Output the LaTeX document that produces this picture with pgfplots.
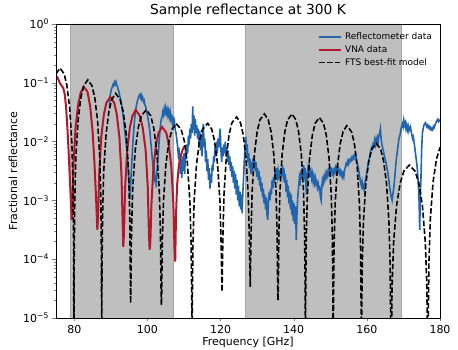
\documentclass[border=0pt]{standalone}
\usepackage{fontspec}
\setmainfont{DejaVu Sans}
\usepackage{pgfplots}
\pgfplotsset{compat=1.18}

\definecolor{refblue}{RGB}{33,102,172}
\definecolor{vnared}{RGB}{178,24,43}
\definecolor{band}{RGB}{191,191,191}
\definecolor{bandedge}{RGB}{165,165,165}

% y values are log10 of the fractional reflectance
\begin{document}
\begin{tikzpicture}
\begin{axis}[
    scale only axis,
    width=384pt, height=294pt,
    xmin=75, xmax=180, ymin=-5, ymax=0,
    xtick={80,100,...,180},
    ytick={-5,-4,...,0},
    yticklabels={10\textsuperscript{−5},10\textsuperscript{−4},10\textsuperscript{−3},10\textsuperscript{−2},10\textsuperscript{−1},10\textsuperscript{0}},
    minor ytick={-4.699,-4.523,-4.398,-4.301,-4.222,-4.155,-4.097,-4.046,
                 -3.699,-3.523,-3.398,-3.301,-3.222,-3.155,-3.097,-3.046,
                 -2.699,-2.523,-2.398,-2.301,-2.222,-2.155,-2.097,-2.046,
                 -1.699,-1.523,-1.398,-1.301,-1.222,-1.155,-1.097,-1.046,
                 -0.699,-0.523,-0.398,-0.301,-0.222,-0.155,-0.097,-0.046},
    tick align=outside,
    xtick pos=left, ytick pos=left,
    major tick length=3.5pt, minor tick length=2pt,
    /pgf/number format/assume math mode=true,
    tick label style={font=\fontsize{11}{13}\selectfont},
    axis line style={line width=0.8pt},
    axis on top,
    title={Sample reflectance at 300 K},
    title style={font=\fontsize{13.8}{16}\selectfont, yshift=-3pt},
    xlabel={Frequency [GHz]},
    ylabel={Fractional reflectance},
    label style={font=\fontsize{11}{13}\selectfont},
    xlabel style={yshift=3pt},
    ylabel style={yshift=-1pt},
    legend image code/.code={\draw[#1] (0pt,0pt) -- (22pt,0pt);},
    legend style={at={(0.995,0.985)}, anchor=north east, draw=none, fill=none,
        font=\fontsize{9}{10.5}\selectfont, row sep=0.5pt,
        nodes={inner xsep=3pt}},
    legend cell align=left,
]
% shaded bands
\addplot[fill=band, draw=bandedge, line width=0.6pt, forget plot]
  coordinates {(78.9,-5) (78.9,0) (107.0,0) (107.0,-5) (78.9,-5)};
\addplot[fill=band, draw=bandedge, line width=0.6pt, forget plot]
  coordinates {(126.7,-5) (126.7,0) (169.3,0) (169.3,-5) (126.7,-5)};

% reflectometer data
\addplot[refblue, line width=1.6pt] coordinates {
(89.6,-1.40) (89.8,-1.22) (90.0,-1.15) (90.2,-1.10) (90.4,-1.07) (90.6,-1.03) (90.8,-1.05) (91.0,-0.99)
(91.2,-1.02) (91.4,-0.98) (91.6,-1.04) (91.8,-1.06) (92.0,-1.12) (92.2,-1.14) (92.4,-1.22) (92.6,-1.26)
(92.8,-1.33) (93.0,-1.40) (93.2,-1.50) (93.4,-1.58) (93.6,-1.70) (93.8,-1.82) (94.0,-1.92) (94.2,-2.05)
(94.4,-2.15) (94.6,-2.35) (94.8,-2.55) (95.0,-2.75) (95.2,-2.98) (95.3,-2.90) (95.5,-2.60) (95.7,-2.40)
(95.9,-2.15) (96.1,-1.95) (96.3,-1.78) (96.5,-1.62) (96.7,-1.50) (96.9,-1.42) (97.1,-1.35) (97.3,-1.30)
(97.5,-1.26) (97.7,-1.22) (97.9,-1.20) (98.1,-1.25) (98.3,-1.21) (98.5,-1.28) (98.7,-1.25) (98.9,-1.32)
(99.1,-1.30) (99.3,-1.38) (99.5,-1.40) (99.7,-1.46) (99.9,-1.52) (100.1,-1.58) (100.3,-1.66) (100.5,-1.75)
(100.7,-1.85) (100.9,-2.00) (101.1,-2.12) (101.3,-2.28) (101.5,-2.40) (101.7,-2.55) (101.9,-2.48) (102.1,-2.70)
(102.3,-2.60) (102.4,-2.78) (102.6,-2.50) (102.8,-2.35) (103.0,-2.20) (103.2,-1.98) (103.4,-1.85) (103.6,-1.70)
(103.8,-1.62) (104.0,-1.58) (104.2,-1.50) (104.4,-1.55) (104.6,-1.44) (104.8,-1.50) (105.0,-1.42) (105.2,-1.52)
(105.4,-1.46) (105.6,-1.55) (105.8,-1.48) (106.0,-1.58) (106.2,-1.50) (106.4,-1.62) (106.6,-1.58) (106.8,-1.68)
(107.0,-1.62) (107.2,-1.72) (107.4,-1.66) (107.6,-1.80) (107.8,-1.85) (108.0,-1.95) (108.2,-2.05) (108.4,-2.20)
(108.6,-2.10) (108.8,-2.35) (109.0,-2.55) (109.2,-2.30) (109.4,-2.62) (109.6,-2.25) (109.8,-2.50) (110.0,-2.20)
(110.2,-2.55) (110.4,-2.15) (110.6,-2.30) (110.8,-2.05) (111.0,-2.20) (111.2,-1.90) (111.4,-2.05) (111.6,-1.78)
(111.8,-1.95) (112.0,-1.70) (112.2,-1.85) (112.4,-1.40) (112.5,-1.80) (112.7,-1.55) (112.9,-1.90) (113.1,-1.62)
(113.3,-1.85) (113.5,-1.72) (113.7,-1.95) (113.9,-1.78) (114.1,-2.05) (114.3,-1.82) (114.5,-2.15) (114.7,-1.90)
(114.9,-2.25) (115.1,-1.80) (115.3,-1.70) (115.5,-2.10) (115.7,-1.95) (115.9,-2.35) (116.1,-2.15) (116.3,-2.50)
(116.5,-2.30) (116.7,-2.65) (116.9,-2.45) (117.1,-2.80) (117.3,-2.55) (117.5,-2.70) (117.7,-2.40) (117.9,-2.50)
(118.1,-2.25) (118.3,-2.35) (118.5,-2.10) (118.7,-2.25) (118.9,-2.00) (119.1,-2.20) (119.3,-1.95) (119.5,-2.10)
(119.7,-1.90) (119.9,-1.78) (120.1,-2.15) (120.3,-2.35) (120.5,-2.10) (120.7,-2.25) (120.9,-2.05) (121.1,-2.20)
(121.3,-2.00) (121.5,-2.25) (121.7,-2.10) (121.9,-2.35) (122.1,-2.15) (122.3,-2.40) (122.5,-2.25) (122.7,-2.50)
(122.9,-2.35) (123.1,-2.60) (123.3,-2.42) (123.5,-2.70) (123.7,-2.50) (123.9,-2.80) (124.1,-2.55) (124.3,-2.90)
(124.5,-2.65) (124.7,-3.00) (124.9,-2.75) (125.1,-3.10) (125.3,-2.85) (125.5,-3.15) (125.7,-2.90) (125.9,-3.22)
(126.1,-2.85) (126.3,-2.60) (126.5,-2.30) (126.7,-2.10) (126.9,-1.92) (127.1,-2.20) (127.3,-2.05) (127.5,-2.35)
(127.7,-2.20) (127.9,-2.45) (128.1,-2.30) (128.3,-2.55) (128.5,-2.35) (128.7,-2.50) (128.9,-2.28) (129.1,-2.45)
(129.3,-2.30) (129.5,-2.50) (129.7,-2.35) (129.9,-2.60) (130.1,-2.45) (130.3,-2.65) (130.5,-2.50) (130.7,-2.75)
(130.9,-2.60) (131.1,-2.85) (131.3,-2.70) (131.5,-2.95) (131.7,-2.80) (131.9,-3.05) (132.1,-2.90) (132.3,-3.15)
(132.5,-2.95) (132.7,-3.25) (132.9,-3.33) (133.1,-3.00) (133.3,-2.85) (133.5,-3.00) (133.7,-2.80) (133.9,-2.90)
(134.1,-2.65) (134.3,-2.80) (134.5,-2.60) (134.7,-2.70) (134.9,-2.50) (135.1,-2.65) (135.3,-2.45) (135.5,-2.60)
(135.7,-2.50) (135.9,-2.65) (136.1,-2.48) (136.3,-2.62) (136.5,-2.45) (136.7,-2.58) (136.9,-2.40) (137.1,-2.55)
(137.3,-2.45) (137.5,-2.70) (137.7,-2.55) (137.9,-2.85) (138.1,-2.65) (138.3,-2.95) (138.5,-2.75) (138.7,-3.05)
(138.9,-2.85) (139.1,-3.15) (139.3,-2.90) (139.5,-3.25) (139.7,-3.00) (139.9,-3.35) (140.1,-3.05) (140.3,-3.40)
(140.5,-3.10) (140.7,-3.67) (140.9,-3.20) (141.1,-2.95) (141.3,-2.80) (141.5,-2.65) (141.7,-2.75) (141.9,-2.50)
(142.1,-2.65) (142.3,-2.45) (142.5,-2.60) (142.7,-2.40) (142.9,-2.55) (143.1,-2.45) (143.3,-2.70) (143.5,-2.90)
(143.7,-2.55) (143.9,-2.45) (144.1,-2.60) (144.3,-2.45) (144.5,-2.55) (144.7,-2.50) (144.9,-2.62) (145.1,-2.55)
(145.3,-2.68) (145.5,-2.60) (145.7,-2.70) (145.9,-2.62) (146.1,-2.72) (146.3,-2.68) (146.5,-2.78) (146.7,-2.72)
(146.9,-2.80) (147.1,-2.78) (147.3,-2.95) (147.5,-3.00) (147.7,-2.75) (147.9,-2.65) (148.1,-2.70) (148.3,-2.60)
(148.5,-2.65) (148.7,-2.55) (148.9,-2.60) (149.1,-2.52) (149.3,-2.58) (149.5,-2.50) (149.7,-2.55) (149.9,-2.46)
(150.1,-2.52) (150.3,-2.48) (150.5,-2.55) (150.7,-2.50) (150.9,-2.56) (151.1,-2.48) (151.3,-2.52) (151.5,-2.44)
(151.7,-2.48) (151.9,-2.42) (152.1,-2.50) (152.3,-2.46) (152.5,-2.54) (152.7,-2.50) (152.9,-2.56) (153.1,-2.52)
(153.3,-2.60) (153.5,-2.55) (153.7,-2.60) (153.9,-2.48) (154.1,-2.44) (154.3,-2.38) (154.5,-2.40) (154.7,-2.34)
(154.9,-2.38) (155.1,-2.32) (155.3,-2.35) (155.5,-2.30) (155.7,-2.32) (155.9,-2.27) (156.1,-2.30) (156.3,-2.25)
(156.5,-2.28) (156.7,-2.22) (156.9,-2.20) (157.1,-2.28) (157.3,-2.35) (157.5,-2.40) (157.7,-2.45) (157.9,-2.55)
(158.1,-2.62) (158.3,-2.70) (158.5,-2.75) (158.7,-2.68) (158.9,-2.78) (159.1,-2.75) (159.3,-2.83) (159.5,-2.70)
(159.7,-2.62) (159.9,-2.55) (160.1,-2.48) (160.3,-2.40) (160.5,-2.32) (160.7,-2.28) (160.9,-2.20) (161.1,-2.15)
(161.3,-2.10) (161.5,-2.12) (161.7,-2.04) (161.9,-2.06) (162.1,-1.98) (162.3,-2.05) (162.5,-1.96) (162.7,-2.02)
(162.9,-1.94) (163.1,-2.00) (163.3,-1.90) (163.5,-1.85) (163.7,-1.78) (163.9,-1.95) (164.1,-2.05) (164.3,-2.10)
(164.5,-2.15) (164.7,-2.22) (164.9,-2.28) (165.1,-2.32) (165.3,-2.38) (165.5,-2.45) (165.7,-2.52) (165.9,-2.60)
(166.1,-2.70) (166.3,-2.80) (166.5,-2.88) (166.7,-2.95) (166.9,-3.00) (167.1,-2.90) (167.3,-2.82) (167.5,-2.70)
(167.7,-2.55) (167.9,-2.40) (168.1,-2.28) (168.3,-2.18) (168.5,-2.08) (168.7,-1.98) (168.9,-1.92) (169.1,-1.88)
(169.3,-1.80) (169.5,-1.74) (169.7,-1.70) (169.9,-1.75) (170.1,-1.64) (170.3,-1.72) (170.5,-1.68) (170.7,-1.78)
(170.9,-1.72) (171.1,-1.80) (171.3,-1.74) (171.5,-1.82) (171.7,-1.76) (171.9,-1.74) (172.1,-1.82) (172.3,-1.88)
(172.5,-1.95) (172.7,-1.92) (172.9,-2.00) (173.1,-2.10) (173.3,-2.20) (173.5,-2.30) (173.7,-2.40) (173.9,-2.55)
(174.1,-2.75) (174.3,-3.05) (174.45,-3.50) (174.6,-3.00) (174.8,-2.60) (175.0,-2.10) (175.2,-1.85) (175.4,-1.78)
(175.6,-1.72) (175.8,-1.70) (176.0,-1.68) (176.2,-1.72) (176.4,-1.75) (176.6,-1.72) (176.8,-1.76) (177.0,-1.74)
(177.2,-1.78) (177.4,-1.76) (177.6,-1.80) (177.8,-1.78) (178.0,-1.80) (178.2,-1.74) (178.4,-1.76) (178.6,-1.72)
(178.8,-1.70) (179.0,-1.66) (179.2,-1.64) (179.4,-1.62) (179.6,-1.66) (179.8,-1.64) (180.0,-1.66)
};
\addlegendentry{Reflectometer data}

% VNA data
\addplot[vnared, line width=2pt] coordinates {
(75.0,-0.88) (75.5,-0.92) (76.1,-1.01) (77.0,-1.09) (77.4,-1.20) (77.75,-1.41) (78.1,-1.75) (78.4,-2.10)
(78.8,-2.65) (79.1,-3.05) (79.3,-3.33)
(79.51,-3.12) (79.79,-2.39) (80.35,-1.76) (81.05,-1.37) (81.75,-1.17) (82.6,-1.07) (83.6,-1.15)
(84.35,-1.40) (85.04,-1.85) (85.5,-2.35) (85.95,-2.95) (86.3,-3.50)
(86.51,-3.29) (86.8,-2.56) (87.37,-1.93) (88.08,-1.54) (88.79,-1.34) (89.85,-1.24) (90.92,-1.34)
(91.63,-1.54) (92.34,-1.93) (92.9,-2.56) (93.19,-3.29) (93.4,-3.79)
(93.62,-3.51) (93.9,-2.78) (94.48,-2.15) (95.2,-1.76) (95.92,-1.56) (96.8,-1.46) (97.9,-1.56)
(98.7,-1.76) (99.52,-2.15) (100.1,-2.78) (100.38,-3.51) (100.6,-3.84)
(100.81,-3.70) (101.09,-3.07) (101.65,-2.44) (102.35,-2.05) (103.05,-1.85) (104.0,-1.75) (105.15,-1.85)
(105.85,-2.05) (106.55,-2.44) (107.11,-3.07) (107.39,-3.80) (107.6,-4.04)
(107.8,-3.30) (108.1,-2.75) (108.6,-2.40) (109.3,-2.20) (110.0,-2.08)
};
\addlegendentry{VNA data}

% FTS best-fit model
\addplot[black, line width=1.6pt, dash pattern=on 5.5pt off 2.4pt] coordinates {
(75.0,-0.85) (76.1,-0.75) (77.24,-0.85) (78.0,-1.05) (78.76,-1.44) (79.37,-2.07) (79.67,-2.80) (79.82,-3.76) (79.9,-5.5)
(79.98,-3.96) (80.13,-3.00) (80.43,-2.27) (81.04,-1.64) (81.8,-1.25) (82.56,-1.05) (83.7,-0.95)
(84.84,-1.05) (85.6,-1.25) (86.36,-1.64) (86.97,-2.27) (87.27,-3.00) (87.42,-3.96) (87.5,-5.5)
(87.58,-4.19) (87.74,-3.23) (88.05,-2.50) (88.69,-1.87) (89.48,-1.48) (90.27,-1.28) (91.3,-1.18)
(92.5,-1.28) (93.35,-1.48) (94.2,-1.87) (94.85,-2.50) (95.16,-3.23) (95.32,-4.19) (95.4,-4.75)
(95.48,-4.47) (95.65,-3.51) (95.99,-2.78) (96.66,-2.15) (97.5,-1.76) (98.34,-1.56) (99.7,-1.46)
(100.9,-1.56) (101.7,-1.76) (102.54,-2.15) (103.21,-2.78) (103.55,-3.51) (103.72,-4.47) (103.8,-4.78)
(103.88,-4.70) (104.05,-3.74) (104.39,-3.01) (105.06,-2.38) (105.9,-1.99) (106.74,-1.79) (107.8,-1.69)
(109.2,-1.79) (110.1,-1.99) (110.94,-2.38) (111.61,-3.01) (111.95,-3.74) (112.12,-4.70) (112.2,-5.3)
(112.28,-4.70) (112.45,-3.74) (112.77,-3.01) (113.43,-2.38) (114.25,-1.99) (115.07,-1.79) (116.5,-1.69)
(117.6,-1.79) (118.35,-1.99) (119.17,-2.38) (119.83,-3.01) (120.15,-3.74) (120.4,-4.55)
(120.63,-3.63) (120.94,-2.90) (121.56,-2.27) (122.33,-1.88) (123.1,-1.68) (124.4,-1.58)
(125.45,-1.68) (126.18,-1.88) (126.95,-2.27) (127.56,-2.90) (127.87,-3.63) (128.1,-4.47)
(128.33,-3.58) (128.63,-2.85) (129.24,-2.22) (130.0,-1.83) (130.76,-1.63) (132.0,-1.53)
(133.04,-1.63) (133.8,-1.83) (134.56,-2.22) (135.17,-2.85) (135.47,-3.58) (135.62,-4.54) (135.7,-4.70)
(135.78,-4.54) (135.93,-3.58) (136.23,-2.85) (136.83,-2.22) (137.58,-1.83) (138.33,-1.63) (139.55,-1.53)
(140.58,-1.63) (141.33,-1.83) (142.08,-2.22) (142.68,-2.85) (142.98,-3.58) (143.13,-4.54) (143.2,-5.3)
(143.28,-4.60) (143.43,-3.64) (143.73,-2.91) (144.34,-2.28) (145.1,-1.89) (145.86,-1.69) (147.0,-1.59)
(148.14,-1.69) (148.9,-1.89) (149.66,-2.28) (150.27,-2.91) (150.57,-3.64) (150.72,-4.60) (150.8,-5.5)
(150.88,-4.74) (151.03,-3.78) (151.34,-3.05) (151.96,-2.42) (152.73,-2.03) (153.5,-1.83) (154.5,-1.73)
(155.8,-1.83) (156.58,-2.03) (157.35,-2.42) (157.96,-3.05) (158.27,-3.78) (158.42,-4.74) (158.5,-5.5)
(158.58,-5.04) (158.74,-4.08) (159.07,-3.35) (159.72,-2.72) (160.53,-2.33) (161.34,-2.13) (162.6,-2.03)
(163.77,-2.13) (164.58,-2.33) (165.39,-2.72) (166.03,-3.35) (166.36,-4.08) (166.52,-5.04) (166.6,-5.5)
(166.7,-5.41) (166.9,-4.45) (167.31,-3.72) (168.12,-3.09) (169.13,-2.70) (170.14,-2.50) (171.6,-2.40)
(173.17,-2.50) (174.18,-2.70) (175.19,-3.09) (175.99,-3.72) (176.4,-4.45) (176.6,-5.41) (176.7,-5.5)
(176.79,-5.00) (176.98,-4.05) (177.35,-3.32) (178.1,-2.69) (179.03,-2.30) (180.0,-2.10)
};
\addlegendentry{FTS best-fit model}
\end{axis}
\pgfresetboundingbox
\path ([shift={(-56pt,-32pt)}]current axis.south west) rectangle ([shift={(18pt,24pt)}]current axis.north east);
\end{tikzpicture}
\end{document}
